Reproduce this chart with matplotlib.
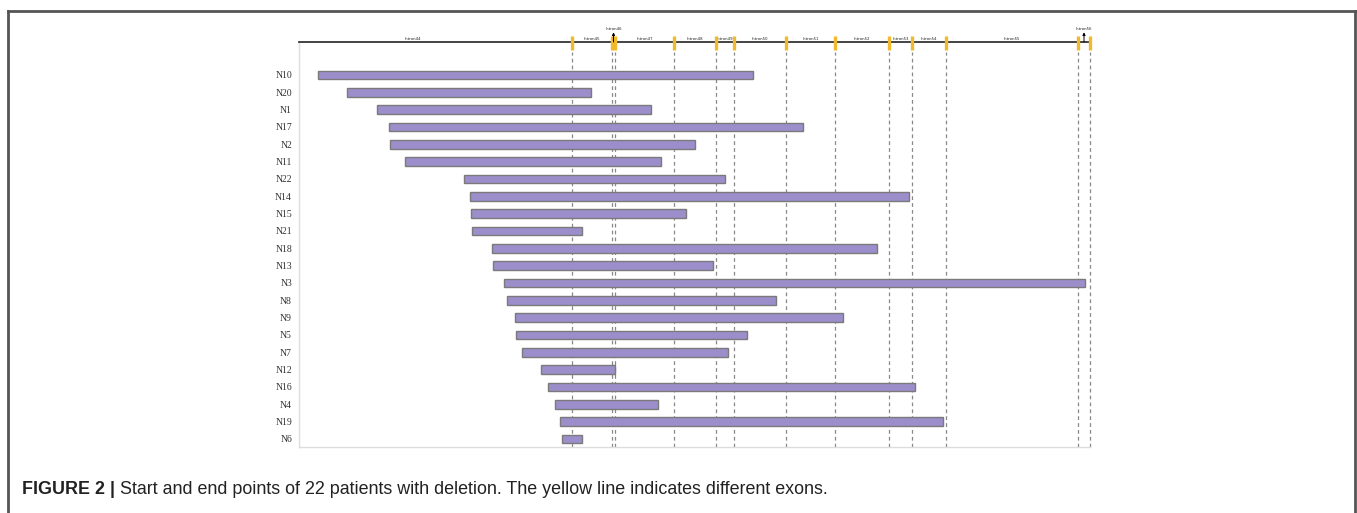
import matplotlib
matplotlib.use("Agg")
import matplotlib.pyplot as plt
from matplotlib.lines import Line2D
from matplotlib import font_manager

# Patients, ordered top to bottom
patients = ["N10", "N20", "N1", "N17", "N2", "N11", "N22", "N14", "N15", "N21", "N18",
            "N13", "N3", "N8", "N9", "N5", "N7", "N12", "N16", "N4", "N19", "N6"]
# Deletion start / end points (relative position along the gene region)
del_start = [19, 48, 78, 90, 91, 106, 165, 171, 172, 173, 193,
             194, 205, 208, 216, 217, 223, 242, 249, 256, 261, 263]
del_end = [454, 292, 352, 504, 396, 362, 426, 610, 387, 283, 578,
           414, 786, 477, 544, 448, 429, 316, 616, 359, 644, 283]

# Exon positions (yellow markers)
exon_pos = [273, 313, 316, 375, 417, 435, 487, 536, 590, 613, 647, 779, 791]
# Introns: label, centre position, and whether it is labelled above with an arrow
intron_names = ["Intron44", "Intron45", "Intron46", "Intron47", "Intron48", "Intron49",
                "Intron50", "Intron51", "Intron52", "Intron53", "Intron54", "Intron55",
                "Intron56"]
intron_pos = [114, 293, 314.5, 345.5, 396, 426, 461, 511.5, 563, 601.5, 630, 713, 785]
intron_raised = [False, False, True, False, False, False, False, False, False, False,
                 False, False, True]

caption_bold = "FIGURE 2 |"
caption_text = " Start and end points of 22 patients with deletion. The yellow line indicates different exons."

W, H = 1357, 513
fig = plt.figure(figsize=(W / 100, H / 100), dpi=100)

# Outer frame of the figure panel (left, top, right edges)
frame_kw = dict(color="#555555", lw=2.0, transform=fig.transFigure)
fig.add_artist(Line2D([8 / W, 8 / W], [0, 1 - 11 / H], **frame_kw))
fig.add_artist(Line2D([8 / W, 1355 / W], [1 - 11 / H, 1 - 11 / H], **frame_kw))
fig.add_artist(Line2D([1355 / W, 1355 / W], [0, 1 - 11 / H], **frame_kw))

ax_left, ax_right, ax_top, ax_bot = 299, 1090, 42, 447
ax = fig.add_axes([ax_left / W, 1 - ax_bot / H, (ax_right - ax_left) / W, (ax_bot - ax_top) / H])

n = len(patients)
rows = list(range(n))
row_px0, row_step = 75, 17.33
ax.set_ylim((ax_bot - row_px0) / row_step, (ax_top - row_px0) / row_step)
ax.set_xlim(0, ax_right - ax_left)

widths = [e - s for s, e in zip(del_start, del_end)]
ax.barh(rows, widths, left=del_start, height=0.5, color="#9C8ECB",
        edgecolor="#7a7a7a", linewidth=1.0, zorder=3)

ax.set_yticks(rows)
ax.set_yticklabels(patients, family="Liberation Serif", fontsize=7, color="#333333")
ax.tick_params(axis="y", length=0, pad=5)
ax.set_xticks([])

for side in ("right", "top"):
    ax.spines[side].set_visible(False)
for side in ("left", "bottom"):
    ax.spines[side].set_color("#dddddd")
    ax.spines[side].set_linewidth(1.0)

tr = ax.get_xaxis_transform()
# Gene axis line along the top
ax.plot([0, exon_pos[-1]], [1.0, 1.0], color="#222222", lw=1.2, transform=tr, clip_on=False, zorder=4)

# Exon markers and dashed guides
for x in exon_pos:
    ax.plot([x, x], [0.0, 0.975], color="#888888", lw=0.9, ls=(0, (3, 2.5)),
            transform=tr, clip_on=False, zorder=2)
    ax.plot([x, x], [0.98, 1.0148], color="#F2B92C", lw=2.4, transform=tr,
            clip_on=False, zorder=5, solid_capstyle="butt")

# Intron labels
for name, x, raised in zip(intron_names, intron_pos, intron_raised):
    if raised:
        ax.annotate("", xy=(x, 1.024), xytext=(x, 1.0), xycoords=tr, textcoords=tr,
                    arrowprops=dict(arrowstyle="-|>", color="black", lw=0.7,
                                    mutation_scale=4, shrinkA=0, shrinkB=0),
                    annotation_clip=False, zorder=6)
        ax.text(x, 1.032, name, transform=tr, fontsize=2.8, ha="center", va="center",
                color="#222222", clip_on=False)
    else:
        ax.text(x, 1.003, name, transform=tr, fontsize=2.8, ha="center", va="bottom",
                color="#222222", clip_on=False)

# Caption
families = {f.name for f in font_manager.fontManager.ttflist}
cap_family = "Liberation Sans Narrow" if "Liberation Sans Narrow" in families else "Liberation Sans"
cap_size = 11.5 if cap_family == "Liberation Sans Narrow" else 12.9
t1 = fig.text(22 / W, 1 - 490 / H, caption_bold, family=cap_family, fontsize=cap_size,
              fontweight="bold", color="#222222", va="center", ha="left")
fig.canvas.draw()
bb = t1.get_window_extent()
fig.text(bb.x1 / W, 1 - 490 / H, caption_text, family=cap_family, fontsize=cap_size,
         color="#222222", va="center", ha="left")

fig.savefig("out.png", dpi=100)
